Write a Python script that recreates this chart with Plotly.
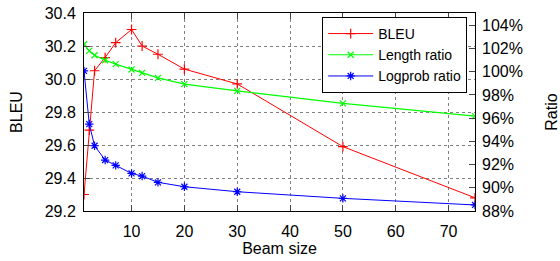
import plotly.graph_objects as go

beam = [1, 2, 3, 5, 7, 10, 12, 15, 20, 30, 50, 75]
bleu = [29.30, 29.69, 30.05, 30.13, 30.22, 30.30, 30.20, 30.15, 30.06, 29.97, 29.59, 29.28]
length_ratio = [102.37, 101.79, 101.42, 100.99, 100.65, 100.19, 99.90, 99.47, 98.93, 98.35, 97.27, 96.17]
logprob_ratio = [100.07, 95.49, 93.62, 92.39, 91.93, 91.24, 91.01, 90.47, 90.09, 89.66, 89.09, 88.52]

x_ticks = [10, 20, 30, 40, 50, 60, 70]
y_ticks = [29.2, 29.4, 29.6, 29.8, 30.0, 30.2, 30.4]
y_labels = ["29.2", "29.4", "29.6", "29.8", "30.0", "30.2", "30.4"]
y2_ticks = [88, 90, 92, 94, 96, 98, 100, 102, 104]
y2_labels = ["88%", "90%", "92%", "94%", "96%", "98%", "100%", "102%", "104%"]

FONT = "Liberation Sans, Arial, sans-serif"

fig = go.Figure()
fig.add_trace(go.Scatter(
    x=beam, y=bleu, name="BLEU", mode="lines+markers",
    line=dict(color="#ff0000", width=1),
    marker=dict(symbol="cross-thin", size=7, line=dict(color="#ff0000", width=1.2)),
))
fig.add_trace(go.Scatter(
    x=beam, y=length_ratio, name="Length ratio", mode="lines+markers", yaxis="y2",
    line=dict(color="#00ff00", width=1.2),
    marker=dict(symbol="x-thin", size=6, line=dict(color="#00ff00", width=1.2)),
))
fig.add_trace(go.Scatter(
    x=beam, y=logprob_ratio, name="Logprob ratio", mode="lines+markers", yaxis="y2",
    line=dict(color="#0000ff", width=1),
    marker=dict(symbol="asterisk-open", size=7, line=dict(color="#0000ff", width=1.2)),
))

fig.update_layout(
    width=560, height=261,
    margin=dict(l=84, r=85, t=13, b=50, autoexpand=False),
    paper_bgcolor="white", plot_bgcolor="white",
    font=dict(family=FONT, size=16, color="black"),
    showlegend=True,
    legend=dict(
        x=0.98, y=0.98, xanchor="right", yanchor="top",
        bgcolor="white", bordercolor="black", borderwidth=1,
        font=dict(size=14), tracegroupgap=0, itemwidth=45,
    ),
    xaxis=dict(
        range=[1, 75], tickvals=x_ticks, ticks="inside", ticklen=6,
        showline=True, linecolor="black", linewidth=1, mirror="ticks",
        showgrid=True, gridcolor="#808080", griddash="dot", gridwidth=1,
        zeroline=False, automargin=False, ticklabelstandoff=6,
        title=dict(text="Beam size", standoff=3, font=dict(size=16)),
    ),
    yaxis=dict(
        range=[29.2, 30.4], tickvals=y_ticks, ticktext=y_labels,
        ticks="inside", ticklen=6, ticklabelstandoff=4,
        showline=True, linecolor="black", linewidth=1, mirror=True,
        showgrid=True, gridcolor="#808080", griddash="dot", gridwidth=1,
        zeroline=False, automargin=False,
        title=dict(text="BLEU", standoff=18, font=dict(size=16)),
    ),
    yaxis2=dict(
        overlaying="y", side="right",
        range=[88, 105.06], tickvals=y2_ticks, ticktext=y2_labels,
        ticks="inside", ticklen=6, ticklabelstandoff=6,
        showline=False, showgrid=False, zeroline=False, automargin=False,
        title=dict(text="Ratio", standoff=29, font=dict(size=16)),
    ),
)

fig.write_html(
    "out.html",
    config={"displayModeBar": False},
    post_script="document.body.style.margin='0';",
)
